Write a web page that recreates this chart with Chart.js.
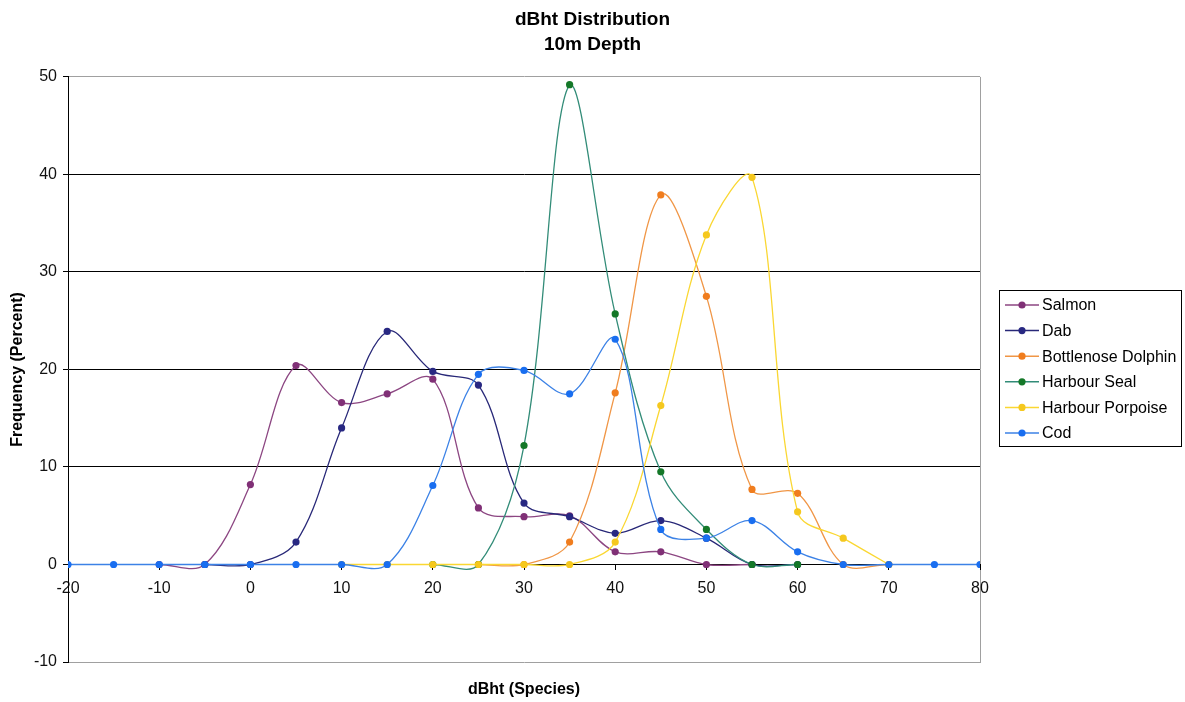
<script src="https://cdn.jsdelivr.net/npm/chart.js"></script>

<style>
  body { margin: 0; background: #fff; }
</style>

<canvas id="myChart" width="1185" height="702"></canvas>

<script>
  // values (x = dBht, y = frequency %)
  const salmonX = [-10, -5, 0, 5, 10, 15, 20, 25, 30, 35, 40, 45, 50, 55];
  const salmonY = [0, 0, 8.2, 20.4, 16.6, 17.5, 19.0, 5.8, 4.9, 5.0, 1.3, 1.3, 0, 0];
  const dabX = [-5, 0, 5, 10, 15, 20, 25, 30, 35, 40, 45, 50, 55, 60];
  const dabY = [0, 0, 2.3, 14.0, 23.9, 19.8, 18.4, 6.3, 4.9, 3.2, 4.5, 2.7, 0, 0];
  const dolphinX = [25, 30, 35, 40, 45, 50, 55, 60, 65, 70];
  const dolphinY = [0, 0, 2.3, 17.6, 37.9, 27.5, 7.7, 7.3, 0, 0];
  const sealX = [20, 25, 30, 35, 40, 45, 50, 55, 60];
  const sealY = [0, 0, 12.2, 49.2, 25.7, 9.5, 3.6, 0, 0];
  const porpoiseX = [10, 15, 20, 25, 30, 35, 40, 45, 50, 55, 60, 65, 70];
  const porpoiseY = [0, 0, 0, 0, 0, 0, 2.3, 16.3, 33.8, 39.7, 5.4, 2.7, 0];
  const codX = [-20, -15, -10, -5, 0, 5, 10, 15, 20, 25, 30, 35, 40, 45, 50, 55, 60, 65, 70, 75, 80];
  const codY = [0, 0, 0, 0, 0, 0, 0, 0, 8.1, 19.5, 19.9, 17.5, 23.1, 3.6, 2.7, 4.5, 1.3, 0, 0, 0, 0];

  const seriesNames = ['Salmon', 'Dab', 'Bottlenose Dolphin', 'Harbour Seal', 'Harbour Porpoise', 'Cod'];
  const lineColors = ['rgb(140,70,130)', 'rgb(40,40,120)', 'rgb(240,150,70)', 'rgb(50,140,120)', 'rgb(250,215,50)', 'rgb(60,130,230)'];
  const dotColors = ['rgb(128,48,118)', 'rgb(40,40,130)', 'rgb(240,125,30)', 'rgb(20,120,40)', 'rgb(245,200,30)', 'rgb(25,110,240)'];

  function pts(xs, ys) {
    return xs.map((x, i) => ({ x: x, y: ys[i] }));
  }
  const allSeries = [
    pts(salmonX, salmonY),
    pts(dabX, dabY),
    pts(dolphinX, dolphinY),
    pts(sealX, sealY),
    pts(porpoiseX, porpoiseY),
    pts(codX, codY),
  ];

  Chart.defaults.font.family = "'Liberation Sans', Arial, sans-serif";
  Chart.defaults.color = '#111';

  const datasets = allSeries.map((d, i) => ({
    label: seriesNames[i],
    data: d,
    showLine: true,
    borderColor: lineColors[i],
    backgroundColor: dotColors[i],
    pointBackgroundColor: dotColors[i],
    pointBorderWidth: 0,
    pointRadius: 3.6,
    borderWidth: 1.3,
    tension: 0.35,
    order: 6 - i, // later series on top, like the original
  }));

  // legend box on the right, line + marker samples
  const boxLegend = {
    id: 'boxLegend',
    afterDraw(chart) {
      const ctx = chart.ctx;
      ctx.save();
      ctx.fillStyle = '#fff';
      ctx.fillRect(999, 290, 182, 156);
      ctx.strokeStyle = '#000';
      ctx.lineWidth = 1;
      ctx.strokeRect(999.5, 290.5, 182, 156);
      ctx.font = "16px 'Liberation Sans', Arial, sans-serif";
      ctx.textBaseline = 'middle';
      seriesNames.forEach((name, i) => {
        const y = 305 + i * 25.6;
        ctx.strokeStyle = lineColors[i];
        ctx.lineWidth = 1.5;
        ctx.beginPath();
        ctx.moveTo(1005, y);
        ctx.lineTo(1039, y);
        ctx.stroke();
        ctx.fillStyle = dotColors[i];
        ctx.beginPath();
        ctx.arc(1022, y, 3.6, 0, Math.PI * 2);
        ctx.fill();
        ctx.fillStyle = '#000';
        ctx.fillText(name, 1042, y + 1);
      });
      ctx.restore();
    },
  };

  const config = {
    type: 'scatter',
    data: { datasets: datasets },
    options: {
      responsive: false,
      animation: false,
      layout: { padding: 0 },
      plugins: {
        legend: { display: false },
        tooltip: { enabled: false },
        title: {
          display: true,
          text: ['dBht Distribution', '10m Depth'],
          color: '#000',
          font: { size: 19, weight: 'bold', lineHeight: 1.34 },
          padding: { top: 7, bottom: 19 },
        },
      },
      scales: {
        x: {
          type: 'linear',
          position: { y: 0 },
          min: -20,
          max: 80,
          ticks: { stepSize: 10, padding: 10, font: { size: 16 }, maxRotation: 0 },
          grid: {
            color: (c) => (c.tick && c.tick.value === 80 ? '#a0a0a0' : 'transparent'),
            tickColor: '#000',
            tickLength: 5,
          },
          border: { color: '#000', width: 1 },
        },
        x2: {
          type: 'linear',
          position: 'bottom',
          min: -20,
          max: 80,
          ticks: { display: false },
          grid: { drawOnChartArea: false, drawTicks: false },
          border: { color: '#a0a0a0', width: 1 },
          title: {
            display: true,
            text: 'dBht (Species)',
            color: '#000',
            font: { size: 16, weight: 'bold' },
            padding: { top: 18.4, bottom: 2.4 },
          },
        },
        y: {
          min: -10,
          max: 50,
          afterFit: (s) => { s.width = 68; },
          ticks: { stepSize: 10, padding: 6, font: { size: 16 } },
          grid: {
            color: (c) => {
              const v = c.tick ? c.tick.value : null;
              if (v === 50) return '#a0a0a0';
              if (v === 0 || v === -10) return 'transparent';
              return '#000';
            },
            tickColor: '#000',
            tickLength: 5,
          },
          border: { color: '#000', width: 1 },
          title: {
            display: true,
            text: 'Frequency (Percent)',
            color: '#000',
            font: { size: 16, weight: 'bold' },
            padding: { top: 8, bottom: 4 },
          },
        },
        // empty axis on the right only keeps room for the legend box
        side: {
          type: 'linear',
          position: 'right',
          ticks: { display: false },
          grid: { drawOnChartArea: false, drawTicks: false },
          border: { display: false },
          afterFit: (s) => { s.width = 205; },
        },
      },
    },
    plugins: [boxLegend],
  };

  var myChart = new Chart(document.getElementById('myChart'), config);
</script>
